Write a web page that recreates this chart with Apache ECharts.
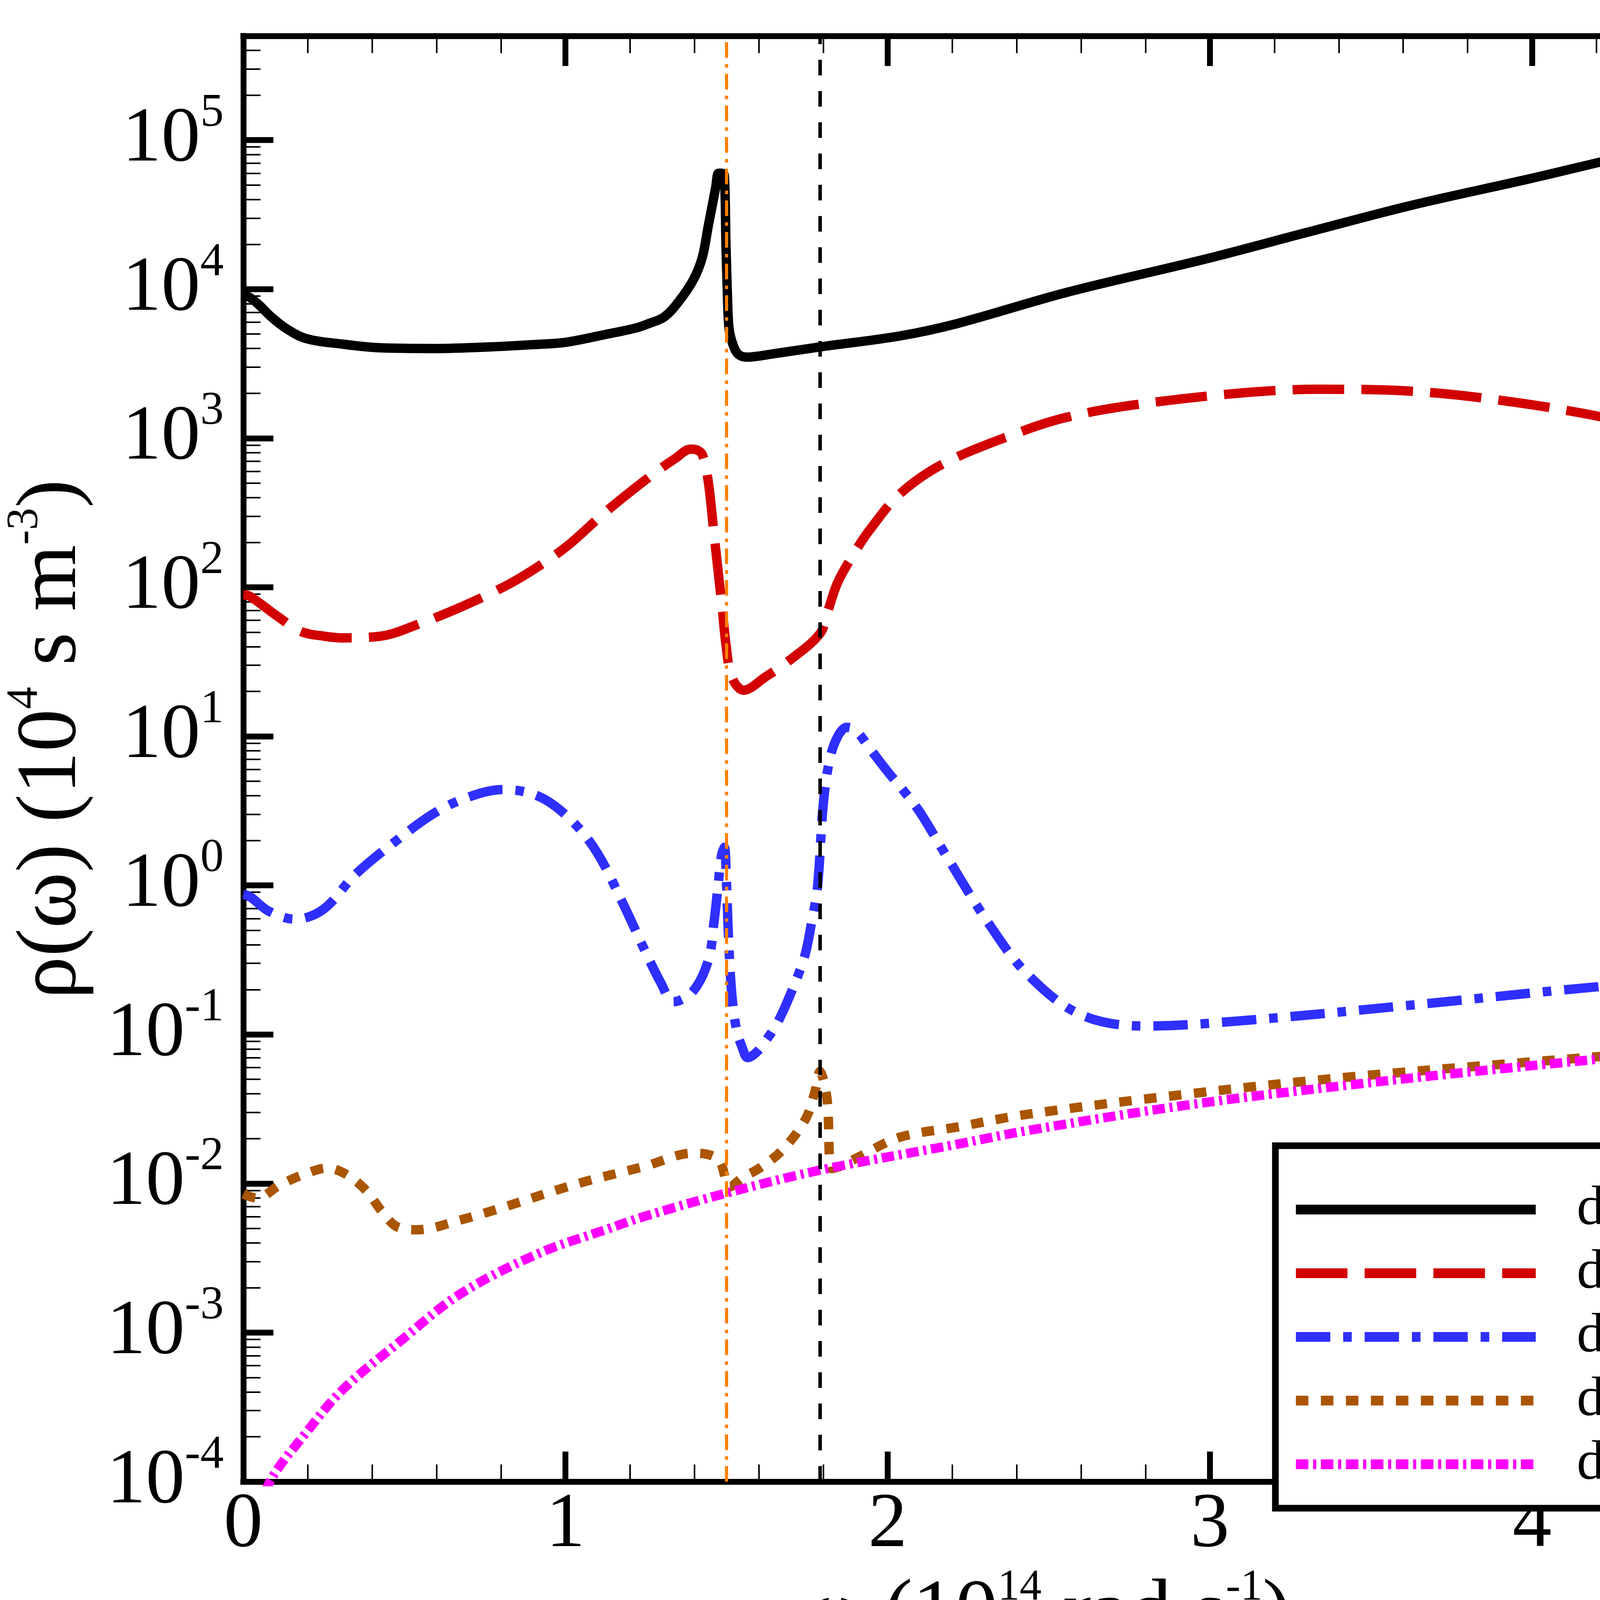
<!DOCTYPE html>
<html>
<head>
<meta charset="utf-8">
<script src="https://cdn.jsdelivr.net/npm/echarts/dist/echarts.min.js"></script>
<style>html,body{margin:0;padding:0;background:#fff;overflow:hidden}#c{width:4800px;height:4267px}</style>
</head>
<body>
<div id="c"></div>
<script>
// ---- data (omega in 1e14 rad/s, rho in 1e4 s m^-3) ----
const w_1nm = [0, 0.02, 0.05, 0.084, 0.13, 0.193, 0.3, 0.43, 0.6, 0.766, 0.9, 1.0, 1.124, 1.22, 1.26, 1.306, 1.352, 1.398, 1.425, 1.443, 1.456, 1.466, 1.475, 1.485, 1.493, 1.498, 1.503, 1.507, 1.516, 1.534, 1.561, 1.65, 1.79, 2.036, 2.218, 2.554, 3.0, 3.3, 3.627, 3.992, 4.357, 4.721, 5.0];
const rho_1nm = [9.2e3, 8.8e3, 7.8e3, 6.6e3, 5.5e3, 4.68e3, 4.3e3, 4.04e3, 4.0e3, 4.1e3, 4.25e3, 4.4e3, 4.97e3, 5.5e3, 5.9e3, 6.5e3, 8.3e3, 1.17e4, 1.65e4, 2.65e4, 3.7e4, 4.8e4, 6.0e4, 6.0e4, 5.8e4, 2.0e4, 8.5e3, 5.6e3, 4.5e3, 3.7e3, 3.5e3, 3.7e3, 4.1e3, 4.85e3, 5.9e3, 9.5e3, 1.62e4, 2.4e4, 3.66e4, 5.5e4, 8.4e4, 1.19e5, 1.47e5];

const w_10nm = [0, 0.021, 0.11, 0.179, 0.25, 0.307, 0.426, 0.545, 0.683, 0.821, 0.92, 1.009, 1.124, 1.261, 1.34, 1.389, 1.41, 1.425, 1.443, 1.461, 1.479, 1.488, 1.498, 1.516, 1.553, 1.62, 1.698, 1.79, 1.815, 1.845, 1.9, 1.945, 2.036, 2.173, 2.4, 2.554, 2.77, 3.104, 3.338, 3.606, 3.94, 4.274, 4.609, 5.0];
const rho_10nm = [89, 86.9, 63, 50.5, 47, 45.8, 47, 56.8, 75, 104, 140, 192, 320, 552, 730, 845, 830, 774, 514, 227, 101, 67, 41.5, 25, 20.4, 25, 32.7, 49, 70, 108, 175, 244, 420, 675, 1080, 1380, 1680, 2018, 2130, 2080, 1750, 1310, 865, 520];

const w_100nm = [0, 0.021, 0.08, 0.16, 0.248, 0.347, 0.466, 0.604, 0.722, 0.807, 0.92, 1.019, 1.098, 1.178, 1.247, 1.296, 1.335, 1.394, 1.443, 1.461, 1.473, 1.484, 1.493, 1.50, 1.505, 1.515, 1.53, 1.55, 1.565, 1.59, 1.62, 1.657, 1.704, 1.743, 1.764, 1.782, 1.80, 1.82, 1.845, 1.873, 1.90, 1.95, 2.0, 2.05, 2.1, 2.173, 2.31, 2.435, 2.602, 2.803, 3.104, 3.606, 4.107, 4.609, 5.0];
const rho_100nm = [0.87, 0.84, 0.67, 0.594, 0.69, 1.18, 1.93, 3.16, 4.07, 4.40, 3.93, 2.72, 1.66, 0.76, 0.363, 0.222, 0.166, 0.193, 0.313, 0.57, 0.97, 1.58, 1.8, 1.0, 0.5, 0.2, 0.11, 0.08, 0.07, 0.075, 0.09, 0.119, 0.2, 0.34, 0.57, 0.97, 3.5, 7, 10, 11.5, 11, 8.0, 5.8, 4.3, 3.1, 1.7, 0.57, 0.252, 0.135, 0.114, 0.124, 0.156, 0.20, 0.249, 0.285];

const w_1um = [0, 0.042, 0.114, 0.187, 0.261, 0.32, 0.383, 0.43, 0.479, 0.54, 0.674, 0.795, 1.039, 1.243, 1.398, 1.45, 1.48, 1.51, 1.55, 1.6, 1.671, 1.744, 1.775, 1.79, 1.80, 1.813, 1.826, 1.85, 1.908, 2.036, 2.218, 2.435, 2.937, 3.439, 3.94, 4.442, 5.0];
const rho_1um = [0.0085, 0.008, 0.0098, 0.0115, 0.0127, 0.0115, 0.0089, 0.0065, 0.0051, 0.0049, 0.0057, 0.0068, 0.010, 0.013, 0.016, 0.0155, 0.014, 0.0095, 0.011, 0.0126, 0.0166, 0.0268, 0.042, 0.0565, 0.05, 0.035, 0.0126, 0.013, 0.015, 0.0204, 0.024, 0.0292, 0.040, 0.052, 0.064, 0.0775, 0.093];

const w_10um = [0.04, 0.09, 0.187, 0.309, 0.491, 0.674, 0.917, 1.124, 1.243, 1.488, 1.79, 2.218, 2.435, 2.937, 3.439, 3.94, 4.442, 5.0];
const rho_10um = [6e-5, 1.07e-4, 2.03e-4, 4.15e-4, 8.9e-4, 1.82e-3, 3.4e-3, 4.9e-3, 6.0e-3, 8.5e-3, 0.0123, 0.0184, 0.0227, 0.0338, 0.046, 0.060, 0.0757, 0.0914];

const seriesNames = ['d = 1 nm', 'd = 10 nm', 'd = 100 nm', 'd = 1 μm', 'd = 10 μm'];
const xTicks = [0, 1, 2, 3, 4, 5];
const yExponents = [-4, -3, -2, -1, 0, 1, 2, 3, 4, 5];
const markerOmegaTO = 1.496;
const markerOmegaLO = 1.789;

// ---- helpers ----
const pairs = (xs, ys) => xs.map((x, i) => [x, ys[i]]);
const MAJOR = yExponents.map(e => Math.pow(10, e));
const MINOR = [];
yExponents.forEach(e => { for (let k = 2; k <= 9; k++) { const v = k * Math.pow(10, e); if (v <= 5e5) MINOR.push(v); } });

const FONT = 'Liberation Serif';
const BLACK = '#000';

function xAxisDef(pos, showLabel) {
  const a = {
    type: 'value', position: pos, min: 0, max: 5, interval: 1,
    axisLine: { show: true, onZero: false, lineStyle: { color: BLACK, width: 15, cap: 'square' } },
    axisTick: { show: true, inside: true, length: 77, lineStyle: { color: BLACK, width: 15 } },
    minorTick: { show: true, splitNumber: 5, length: 44, lineStyle: { color: BLACK, width: 4 } },
    splitLine: { show: false }, minorSplitLine: { show: false },
    axisLabel: { show: showLabel, margin: 12, fontFamily: FONT, fontSize: 200, lineHeight: 200, color: BLACK,
      formatter: v => (xTicks.indexOf(v) >= 0 ? String(v) : '') }
  };
  if (showLabel) {
    a.name = '{t|ω (10}{e|14}{t| rad s}{e|-1}{t|)}';
    a.nameLocation = 'middle';
    a.nameGap = 126;
    a.nameTextStyle = { rich: {
      t: { fontFamily: FONT, fontSize: 218, lineHeight: 220, color: BLACK },
      e: { fontFamily: FONT, fontSize: 112, lineHeight: 112, padding: [0, 0, 140, 0], color: BLACK }
    } };
  }
  return a;
}

function yAxisDef(pos, minor, showLabel) {
  const a = {
    type: 'log', logBase: 10, min: 1e-4, max: 5e5, position: pos,
    axisLine: { show: !minor, onZero: false, lineStyle: { color: BLACK, width: 15, cap: 'square' } },
    axisTick: { show: true, inside: true, length: minor ? 44 : 77, customValues: minor ? MINOR : MAJOR,
      lineStyle: { color: BLACK, width: minor ? 4 : 15 } },
    minorTick: { show: false }, splitLine: { show: false }, minorSplitLine: { show: false },
    axisLabel: { show: false }
  };
  if (showLabel) {
    a.axisLabel = {
      show: true, customValues: MAJOR, margin: 50,
      formatter: v => '{b|10}{e|' + Math.round(Math.log10(v)) + '}',
      rich: {
        b: { fontFamily: FONT, fontSize: 200, lineHeight: 200, color: BLACK },
        e: { fontFamily: FONT, fontSize: 120, lineHeight: 120, padding: [0, 0, 136, 0], color: BLACK }
      }
    };
    a.name = '{t|ρ(ω) (10}{e|4}{t| s m}{e|-3}{t|)}';
    a.nameLocation = 'middle';
    a.nameGap = 305;
    a.nameTextStyle = { padding: [0, 0, 0, 100], rich: {
      t: { fontFamily: FONT, fontSize: 218, lineHeight: 218, color: BLACK },
      e: { fontFamily: FONT, fontSize: 114, lineHeight: 114, padding: [0, 0, 140, 0], color: BLACK }
    } };
  }
  return a;
}

function lineSeries(name, data, color, dash, extra) {
  return Object.assign({
    name: name, type: 'line', data: data, xAxisIndex: 0, yAxisIndex: 0,
    showSymbol: false, symbol: 'none', smooth: 0.35, clip: true,
    lineStyle: { color: color, width: 24, type: dash, cap: 'butt', join: 'round' },
    itemStyle: { color: color }, emphasis: { disabled: true }
  }, extra || {});
}

const option = {
  animation: false,
  backgroundColor: '#fff',
  grid: { left: 558, right: 46, top: 92, bottom: 406, containLabel: false },
  xAxis: [xAxisDef('bottom', true), xAxisDef('top', false)],
  yAxis: [yAxisDef('left', false, true), yAxisDef('left', true, false), yAxisDef('right', false, false), yAxisDef('right', true, false)],
  legend: {
    orient: 'vertical', left: 3305, top: 3015, itemWidth: 614, itemHeight: 25, itemGap: 0, padding: 0,
    selectedMode: false,
    itemStyle: { opacity: 0 },
    lineStyle: { width: 25, cap: 'butt' },
    textStyle: { fontFamily: FONT, fontSize: 142, lineHeight: 163, color: BLACK, padding: [0, 0, 0, 100] },
    data: seriesNames
  },
  graphic: [{
    type: 'rect', z: 3,
    shape: { x: 3265, y: 2933, width: 1489, height: 928 },
    style: { fill: '#fff', stroke: BLACK, lineWidth: 17 }
  }],
  series: [
    lineSeries(seriesNames[0], pairs(w_1nm, rho_1nm), '#000000', 'solid', {
      markLine: {
        silent: true, symbol: ['none', 'none'], label: { show: false }, animation: false,
        data: [
          { xAxis: markerOmegaTO, lineStyle: { color: '#ff8000', width: 8, type: [40, 16, 9, 16], cap: 'butt' } },
          { xAxis: markerOmegaLO, lineStyle: { color: '#000000', width: 9, type: [40, 40], cap: 'butt' } }
        ]
      }
    }),
    lineSeries(seriesNames[1], pairs(w_10nm, rho_10nm), '#d20000', [132, 44]),
    lineSeries(seriesNames[2], pairs(w_100nm, rho_100nm), '#2f2fff', [88, 33, 22, 33]),
    lineSeries(seriesNames[3], pairs(w_1um, rho_1um), '#aa5500', [32, 32]),
    lineSeries(seriesNames[4], pairs(w_10um, rho_10um), '#ff00ff', [32, 12, 8, 12])
  ]
};

const chart = echarts.init(document.getElementById('c'), null, { renderer: 'canvas', width: 4800, height: 4267 });
chart.setOption(option);
</script>
</body>
</html>
